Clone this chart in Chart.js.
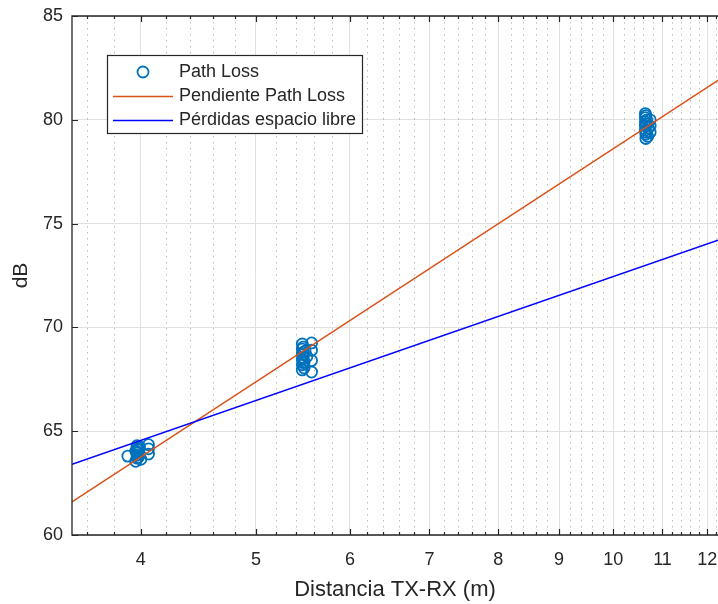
<!DOCTYPE html>
<html>
<head>
<meta charset="utf-8">
<script src="https://cdn.jsdelivr.net/npm/chart.js@4/dist/chart.umd.min.js"></script>
<style>
  html, body { margin: 0; padding: 0; background: #fff; }
  #wrap { width: 718px; height: 604px; }
</style>
</head>
<body>
<div id="wrap"><canvas id="c" width="718" height="604"></canvas></div>
<script>
// Measured path loss per TX-RX distance (m, dB)
const distance = [
  3.90, 3.97, 3.97, 3.97, 3.97, 3.97, 3.96, 3.98, 4.06, 4.06, 4.06,
  3.98, 3.97, 3.98, 3.96, 4.00, 3.99,
  5.47, 5.47, 5.47, 5.47, 5.47, 5.47, 5.48, 5.48, 5.57, 5.57, 5.57, 5.57, 5.52,
  5.48, 5.48, 5.49, 5.50, 5.49,
  10.64, 10.64, 10.64, 10.64, 10.64, 10.65, 10.65, 10.74, 10.74, 10.74, 10.70, 10.69,
  10.65, 10.66, 10.66, 10.67
];
const pathLoss = [
  63.80, 64.30, 64.15, 64.00, 63.85, 63.70, 63.55, 64.20, 64.35, 64.15, 63.90,
  64.10, 63.95, 63.75, 64.05, 63.65, 64.25,
  69.20, 68.95, 68.70, 68.45, 68.20, 67.95, 68.80, 68.30, 69.25, 68.90, 68.40, 67.85, 68.60,
  69.05, 68.55, 68.05, 68.85, 68.35,
  80.30, 80.10, 79.90, 79.70, 79.50, 79.30, 79.10, 80.00, 79.70, 79.40, 79.60, 79.20,
  80.20, 79.80, 79.40, 80.00
];

// Fitted slope line and free-space loss line (end points)
const slopeDistance = [3.5, 12.25];
const slopeLoss = [61.6, 81.9];
const freeSpaceDistance = [3.5, 12.25];
const freeSpaceLoss = [63.4, 74.2];

// Axes
const xRange = [3.5, 12.25];
const yRange = [60, 85];
const xTicks = [4, 5, 6, 7, 8, 9, 10, 11, 12];
const yTicks = [60, 65, 70, 75, 80, 85];
const xMinorStep = 0.2;

const seriesLabels = ['Path Loss', 'Pendiente Path Loss', 'Pérdidas espacio libre'];
const seriesColors = ['#0072BD', '#D95319', '#0000FF'];

const AXIS = '#262626';
const FONT = "'Liberation Sans', Arial, Helvetica, sans-serif";

function pairs(xs, ys) { return xs.map((v, i) => ({ x: v, y: ys[i] })); }

function minorValues() {
  const out = [];
  const k0 = Math.ceil(xRange[0] / xMinorStep - 1e-9);
  for (let k = k0; k * xMinorStep <= xRange[1] + 1e-9; k++) {
    const v = Math.round(k * xMinorStep * 10) / 10;
    if (!xTicks.includes(v)) out.push(v);
  }
  return out;
}

const axesBox = {
  id: 'axesBox',
  beforeDatasetsDraw(chart) {
    const { ctx, chartArea: a, scales: { x } } = chart;
    ctx.save();
    ctx.strokeStyle = 'rgba(38,38,38,0.30)';
    ctx.lineWidth = 1;
    ctx.setLineDash([1.5, 4.5]);
    for (const v of minorValues()) {
      const px = Math.round(x.getPixelForValue(v)) + 0.5;
      ctx.beginPath();
      ctx.moveTo(px, a.top);
      ctx.lineTo(px, a.bottom);
      ctx.stroke();
    }
    ctx.restore();
  },
  afterDatasetsDraw(chart) {
    const { ctx, chartArea: a, scales: { x, y } } = chart;
    ctx.save();
    ctx.strokeStyle = AXIS;
    ctx.lineWidth = 1.3;
    ctx.setLineDash([]);
    // box edges: top, left, bottom
    ctx.beginPath();
    ctx.moveTo(a.right, a.top); ctx.lineTo(a.left, a.top);
    ctx.lineTo(a.left, a.bottom); ctx.lineTo(a.right, a.bottom);
    ctx.stroke();
    // inward ticks
    ctx.lineWidth = 1.2;
    ctx.beginPath();
    for (const v of xTicks) {
      const px = Math.round(x.getPixelForValue(v)) + 0.5;
      ctx.moveTo(px, a.bottom); ctx.lineTo(px, a.bottom - 6);
      ctx.moveTo(px, a.top); ctx.lineTo(px, a.top + 6);
    }
    for (const v of minorValues()) {
      const px = Math.round(x.getPixelForValue(v)) + 0.5;
      ctx.moveTo(px, a.bottom); ctx.lineTo(px, a.bottom - 3);
      ctx.moveTo(px, a.top); ctx.lineTo(px, a.top + 3);
    }
    for (const v of yTicks) {
      const py = Math.round(y.getPixelForValue(v)) + 0.5;
      ctx.moveTo(a.left, py); ctx.lineTo(a.left + 6, py);
    }
    ctx.stroke();

    // legend box
    const L = { left: 107, top: 55, right: 362, bottom: 133 };
    ctx.fillStyle = '#fff';
    ctx.fillRect(L.left, L.top, L.right - L.left, L.bottom - L.top);
    ctx.strokeStyle = AXIS;
    ctx.lineWidth = 1.2;
    ctx.strokeRect(L.left + 0.5, L.top + 0.5, L.right - L.left, L.bottom - L.top);
    const rows = [72.5, 96.5, 120.5];
    chart.data.datasets.forEach((ds, i) => {
      const ry = rows[i];
      ctx.strokeStyle = ds.borderColor;
      ctx.lineWidth = ds.borderWidth;
      ctx.beginPath();
      if (ds.showLine) {
        ctx.moveTo(113, ry); ctx.lineTo(173, ry);
      } else {
        ctx.arc(143, ry - 0.5, ds.pointRadius, 0, Math.PI * 2);
      }
      ctx.stroke();
      ctx.fillStyle = AXIS;
      ctx.font = '18px ' + FONT;
      ctx.textAlign = 'left';
      ctx.textBaseline = 'middle';
      ctx.fillText(ds.label, 179, ry);
    });
    ctx.restore();
  }
};

new Chart(document.getElementById('c'), {
  type: 'scatter',
  data: {
    datasets: [
      {
        label: seriesLabels[0],
        data: pairs(distance, pathLoss),
        showLine: false,
        pointStyle: 'circle',
        pointRadius: 5.5,
        pointBorderWidth: 1.8,
        borderWidth: 1.8,
        borderColor: seriesColors[0],
        pointBorderColor: seriesColors[0],
        backgroundColor: 'rgba(0,0,0,0)',
        pointBackgroundColor: 'rgba(0,0,0,0)',
        order: 2
      },
      {
        label: seriesLabels[1],
        data: pairs(slopeDistance, slopeLoss),
        showLine: true,
        pointRadius: 0,
        borderWidth: 1.5,
        borderColor: seriesColors[1],
        backgroundColor: seriesColors[1],
        order: 1
      },
      {
        label: seriesLabels[2],
        data: pairs(freeSpaceDistance, freeSpaceLoss),
        showLine: true,
        pointRadius: 0,
        borderWidth: 1.5,
        borderColor: seriesColors[2],
        backgroundColor: seriesColors[2],
        order: 0
      }
    ]
  },
  options: {
    responsive: false,
    animation: false,
    devicePixelRatio: 1,
    layout: { autoPadding: false, padding: { top: 16, right: 0, bottom: 0, left: 0 } },
    plugins: { legend: { display: false }, tooltip: { enabled: false } },
    scales: {
      x: {
        type: 'logarithmic',
        min: xRange[0],
        max: xRange[1],
        afterBuildTicks: s => { s.ticks = xTicks.map(v => ({ value: v })); },
        afterFit: s => { s.height = 69; s.paddingLeft = 0; s.paddingRight = 0; },
        ticks: {
          autoSkip: false, maxRotation: 0, padding: 14,
          color: AXIS, font: { family: FONT, size: 18 },
          callback: v => String(v)
        },
        grid: { color: '#e0e0e0', lineWidth: 1, drawTicks: false },
        border: { display: false },
        title: {
          display: true, text: 'Distancia TX-RX (m)', color: AXIS,
          font: { family: FONT, size: 22 }, padding: { top: 0, bottom: 1 }
        }
      },
      y: {
        type: 'linear',
        min: yRange[0],
        max: yRange[1],
        afterBuildTicks: s => { s.ticks = yTicks.map(v => ({ value: v })); },
        afterFit: s => { s.width = 72; s.paddingTop = 0; s.paddingBottom = 0; },
        ticks: {
          padding: 9, color: AXIS, font: { family: FONT, size: 18 },
          callback: v => String(v)
        },
        grid: { color: '#e0e0e0', lineWidth: 1, drawTicks: false },
        border: { display: false },
        title: {
          display: true, text: 'dB', color: AXIS,
          font: { family: FONT, size: 21 }, padding: { top: 9, bottom: 0 }
        }
      }
    }
  },
  plugins: [axesBox]
});
</script>
</body>
</html>
